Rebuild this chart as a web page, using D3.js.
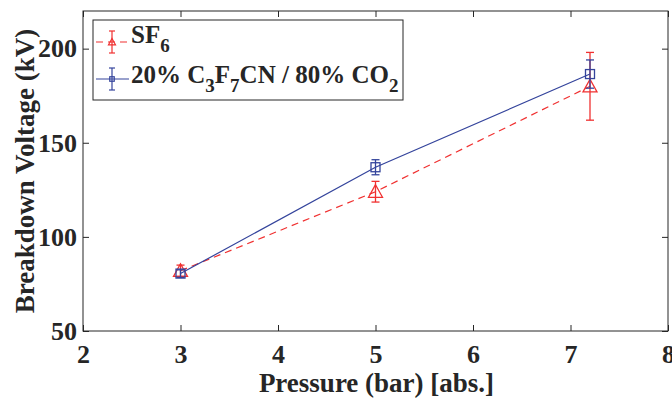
<!DOCTYPE html>
<html>
<head>
<meta charset="utf-8">
<script src="https://cdn.jsdelivr.net/npm/d3@7"></script>
<style>
  body { margin: 0; background: #fff; }
  text { font-family: "Liberation Serif", "Times New Roman", serif; font-weight: bold; fill: #262626; }
</style>
</head>
<body>
<div id="chart"></div>
<script>
var pressure = [3, 5, 7.2];
var sf6 = [82, 124, 180];
var sf6Err = [3, 5.5, 18];
var mix = [80.5, 137, 186.5];
var mixErr = [2, 4, 7.5];
var xTicks = [2, 3, 4, 5, 6, 7, 8];
var yTicks = [50, 100, 150, 200];

var width = 672, height = 400;
var plotL = 83, plotR = 668, plotT = 11, plotB = 331;
var red = "#f03030", blue = "#34449c";

var svg = d3.select("#chart").append("svg")
    .attr("width", width)
    .attr("height", height);

var xScale = d3.scaleLinear().domain([2, 8]).range([plotL, plotR]);
var yScale = d3.scaleLinear().domain([50, 220]).range([plotB, plotT]);

// axes with inward ticks
var xAxis = d3.axisBottom(xScale).tickValues(xTicks).tickSize(-6).tickPadding(14).tickFormat(d3.format("d"));
var yAxis = d3.axisLeft(yScale).tickValues(yTicks).tickSize(-6).tickPadding(6).tickFormat(d3.format("d"));

var gx = svg.append("g").attr("transform", "translate(0," + plotB + ")").call(xAxis);
var gy = svg.append("g").attr("transform", "translate(" + plotL + ",0)").call(yAxis);
svg.append("g").attr("transform", "translate(0," + plotT + ")")
    .call(d3.axisTop(xScale).tickValues(xTicks).tickSize(-6).tickFormat(""));
svg.append("g").attr("transform", "translate(" + plotR + ",0)")
    .call(d3.axisRight(yScale).tickValues(yTicks).tickSize(-6).tickFormat(""));

[gx, gy].forEach(function(g) {
    g.attr("font-size", 26)
     .attr("font-family", "Liberation Serif")
     .attr("font-weight", "bold");
});
svg.selectAll(".domain").remove();
svg.selectAll(".tick line").attr("stroke", "#262626");
svg.selectAll(".tick text")
    .attr("font-size", 26)
    .attr("fill", "#262626");
gx.selectAll(".tick text").attr("dy", "0.71em");

svg.append("rect")
    .attr("x", plotL).attr("y", plotT)
    .attr("width", plotR - plotL).attr("height", plotB - plotT)
    .attr("fill", "none").attr("stroke", "#262626").attr("stroke-width", 1);

// axis titles
svg.append("text")
    .attr("x", (plotL + plotR) / 2 + 1).attr("y", 392)
    .attr("text-anchor", "middle")
    .style("font-size", "27px")
    .text("Pressure (bar) [abs.]");

svg.append("text")
    .attr("transform", "translate(34," + (plotT + plotB) / 2 + ") rotate(-90)")
    .attr("text-anchor", "middle")
    .style("font-size", "27px")
    .text("Breakdown Voltage (kV)");

function drawSeries(vals, errs, color, dash, marker) {
    var line = d3.line()
        .x(function(d, i) { return xScale(pressure[i]); })
        .y(function(d) { return yScale(d); });
    svg.append("path")
        .datum(vals)
        .attr("d", line)
        .attr("fill", "none")
        .attr("stroke", color)
        .attr("stroke-width", 1.2)
        .attr("stroke-dasharray", dash);

    var g = svg.append("g").attr("stroke", color).attr("fill", "none").attr("stroke-width", 1.3);
    vals.forEach(function(v, i) {
        var cx = xScale(pressure[i]);
        var y1 = yScale(v + errs[i]), y0 = yScale(v - errs[i]);
        g.append("line").attr("x1", cx).attr("x2", cx).attr("y1", y1).attr("y2", y0);
        g.append("line").attr("x1", cx - 4).attr("x2", cx + 4).attr("y1", y1).attr("y2", y1);
        g.append("line").attr("x1", cx - 4).attr("x2", cx + 4).attr("y1", y0).attr("y2", y0);
        marker(g, cx, yScale(v), 1);
    });
}

function triangle(g, cx, cy, s) {
    var h = 7 * s;
    g.append("path")
        .attr("d", "M" + cx + "," + (cy - h) + "L" + (cx + h) + "," + (cy + h * 0.8) + "L" + (cx - h) + "," + (cy + h * 0.8) + "Z");
}
function square(g, cx, cy, s) {
    var h = 4.5 * s;
    g.append("rect").attr("x", cx - h).attr("y", cy - h).attr("width", 2 * h).attr("height", 2 * h);
}

drawSeries(sf6, sf6Err, red, "7,5", triangle);
drawSeries(mix, mixErr, blue, null, square);

// legend
var lg = svg.append("g");
lg.append("rect")
    .attr("x", 93).attr("y", 20).attr("width", 310).attr("height", 80)
    .attr("fill", "#fff").attr("stroke", "#262626").attr("stroke-width", 1);

var legendItems = [
    { color: red, dash: "7,5", marker: triangle, y: 42 },
    { color: blue, dash: null, marker: square, y: 79 }
];
legendItems.forEach(function(it) {
    var g = lg.append("g").attr("stroke", it.color).attr("fill", "none").attr("stroke-width", 1.2);
    g.append("line").attr("x1", 96).attr("x2", 129).attr("y1", it.y).attr("y2", it.y)
        .attr("stroke-dasharray", it.dash);
    g.append("line").attr("x1", 112).attr("x2", 112).attr("y1", it.y - 11).attr("y2", it.y + 11);
    g.append("line").attr("x1", 109).attr("x2", 115).attr("y1", it.y - 11).attr("y2", it.y - 11);
    g.append("line").attr("x1", 109).attr("x2", 115).attr("y1", it.y + 11).attr("y2", it.y + 11);
    it.marker(g, 112, it.y, 0.5);
});

var t1 = lg.append("text").attr("x", 131).attr("y", 43).style("font-size", "25px");
t1.append("tspan").text("SF");
t1.append("tspan").attr("dy", 9).style("font-size", "19px").text("6");

var t2 = lg.append("text").attr("x", 131).attr("y", 83).style("font-size", "25px");
t2.append("tspan").text("20% C");
t2.append("tspan").attr("dy", 9).style("font-size", "19px").text("3");
t2.append("tspan").attr("dy", -9).text("F");
t2.append("tspan").attr("dy", 9).style("font-size", "19px").text("7");
t2.append("tspan").attr("dy", -9).text("CN / 80% CO");
t2.append("tspan").attr("dy", 9).style("font-size", "19px").text("2");
</script>
</body>
</html>
